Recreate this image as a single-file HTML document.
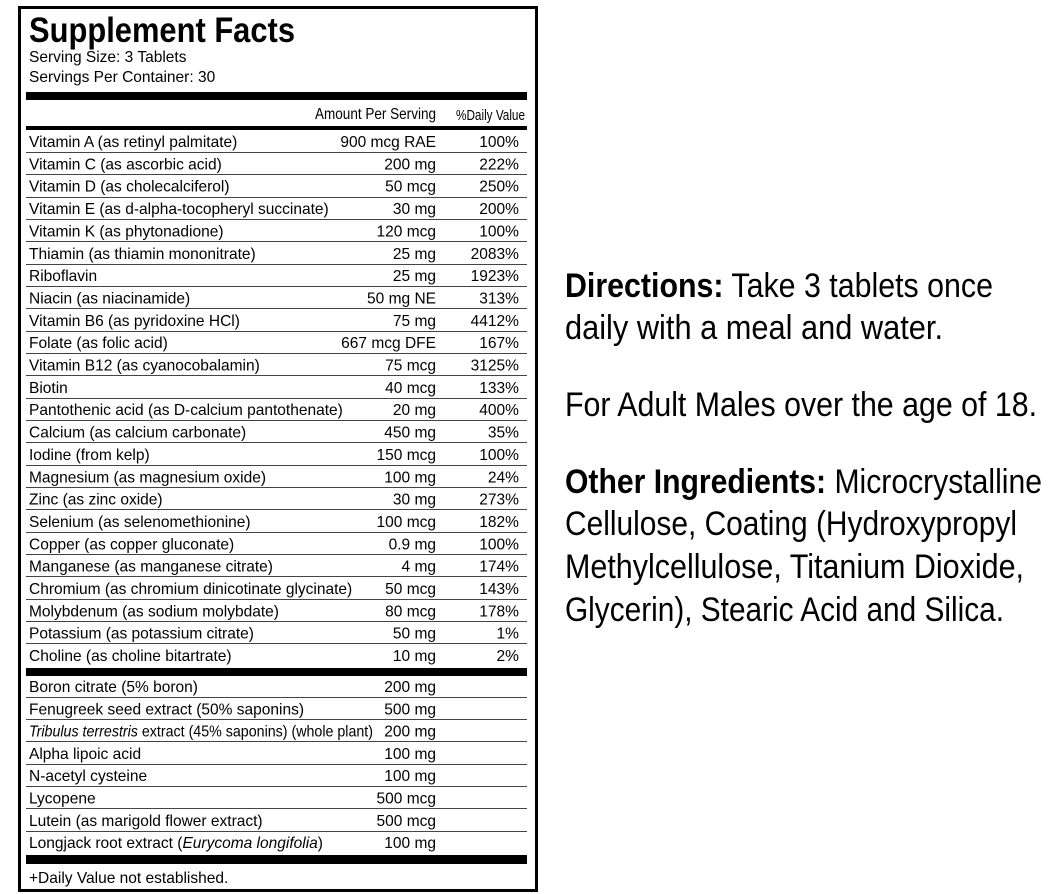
<!DOCTYPE html>
<html><head><meta charset="utf-8"><style>
html,body{margin:0;padding:0;background:#fff;}
svg{display:block;font-family:"Liberation Sans",Arial,sans-serif;}
</style></head><body>
<svg width="1051" height="894" viewBox="0 0 1051 894" xmlns="http://www.w3.org/2000/svg">
<rect x="19.5" y="7.5" width="517" height="883" fill="none" stroke="#000" stroke-width="3"/>
<text x="29" y="42" font-size="35" font-weight="bold" textLength="266" lengthAdjust="spacingAndGlyphs">Supplement Facts</text>
<g font-size="16" transform="scale(0.97,1)">
<text x="29.9" y="62">Serving Size: 3 Tablets</text>
<text x="29.9" y="82">Servings Per Container: 30</text>
</g>
<rect x="26" y="92" width="501" height="8" fill="#000"/>
<text x="436" y="119" font-size="16" text-anchor="end" textLength="121" lengthAdjust="spacingAndGlyphs">Amount Per Serving</text>
<text x="525" y="120" font-size="15" text-anchor="end" textLength="69" lengthAdjust="spacingAndGlyphs">%Daily Value</text>
<rect x="26" y="126" width="501" height="4" fill="#000"/>
<g stroke="#444" stroke-width="1">
<line x1="26" x2="527" y1="152.5" y2="152.5"/><line x1="26" x2="527" y1="174.5" y2="174.5"/><line x1="26" x2="527" y1="197.5" y2="197.5"/><line x1="26" x2="527" y1="219.5" y2="219.5"/><line x1="26" x2="527" y1="241.5" y2="241.5"/><line x1="26" x2="527" y1="264.5" y2="264.5"/><line x1="26" x2="527" y1="286.5" y2="286.5"/><line x1="26" x2="527" y1="308.5" y2="308.5"/><line x1="26" x2="527" y1="331.5" y2="331.5"/><line x1="26" x2="527" y1="353.5" y2="353.5"/><line x1="26" x2="527" y1="375.5" y2="375.5"/><line x1="26" x2="527" y1="398.5" y2="398.5"/><line x1="26" x2="527" y1="420.5" y2="420.5"/><line x1="26" x2="527" y1="442.5" y2="442.5"/><line x1="26" x2="527" y1="465.5" y2="465.5"/><line x1="26" x2="527" y1="487.5" y2="487.5"/><line x1="26" x2="527" y1="509.5" y2="509.5"/><line x1="26" x2="527" y1="532.5" y2="532.5"/><line x1="26" x2="527" y1="554.5" y2="554.5"/><line x1="26" x2="527" y1="576.5" y2="576.5"/><line x1="26" x2="527" y1="599.5" y2="599.5"/><line x1="26" x2="527" y1="621.5" y2="621.5"/><line x1="26" x2="527" y1="643.5" y2="643.5"/>
<line x1="26" x2="527" y1="697.5" y2="697.5"/><line x1="26" x2="527" y1="719.5" y2="719.5"/><line x1="26" x2="527" y1="741.5" y2="741.5"/><line x1="26" x2="527" y1="764.5" y2="764.5"/><line x1="26" x2="527" y1="786.5" y2="786.5"/><line x1="26" x2="527" y1="808.5" y2="808.5"/><line x1="26" x2="527" y1="831.5" y2="831.5"/>
</g>
<rect x="26" y="668" width="501" height="8" fill="#000"/>
<rect x="26" y="855" width="501" height="9" fill="#000"/>
<g font-size="16" transform="scale(0.97,1)">
<g>
<text x="29.9" y="147">Vitamin A (as retinyl palmitate)</text>
<text x="29.9" y="169.4">Vitamin C (as ascorbic acid)</text>
<text x="29.9" y="191.7">Vitamin D (as cholecalciferol)</text>
<text x="29.9" y="214">Vitamin E (as d-alpha-tocopheryl succinate)</text>
<text x="29.9" y="236.4">Vitamin K (as phytonadione)</text>
<text x="29.9" y="258.8">Thiamin (as thiamin mononitrate)</text>
<text x="29.9" y="281.1">Riboflavin</text>
<text x="29.9" y="303.5">Niacin (as niacinamide)</text>
<text x="29.9" y="325.8">Vitamin B6 (as pyridoxine HCl)</text>
<text x="29.9" y="348.2">Folate (as folic acid)</text>
<text x="29.9" y="370.5">Vitamin B12 (as cyanocobalamin)</text>
<text x="29.9" y="392.9">Biotin</text>
<text x="29.9" y="415.2">Pantothenic acid (as D-calcium pantothenate)</text>
<text x="29.9" y="437.6">Calcium (as calcium carbonate)</text>
<text x="29.9" y="459.9">Iodine (from kelp)</text>
<text x="29.9" y="482.3">Magnesium (as magnesium oxide)</text>
<text x="29.9" y="504.6">Zinc (as zinc oxide)</text>
<text x="29.9" y="527">Selenium (as selenomethionine)</text>
<text x="29.9" y="549.3">Copper (as copper gluconate)</text>
<text x="29.9" y="571.7">Manganese (as manganese citrate)</text>
<text x="29.9" y="594">Chromium (as chromium dinicotinate glycinate)</text>
<text x="29.9" y="616.4">Molybdenum (as sodium molybdate)</text>
<text x="29.9" y="638.7">Potassium (as potassium citrate)</text>
<text x="29.9" y="661.1">Choline (as choline bitartrate)</text>
</g>
<g text-anchor="end">
<text x="449.5" y="147">900 mcg RAE</text>
<text x="449.5" y="169.4">200 mg</text>
<text x="449.5" y="191.7">50 mcg</text>
<text x="449.5" y="214">30 mg</text>
<text x="449.5" y="236.4">120 mcg</text>
<text x="449.5" y="258.8">25 mg</text>
<text x="449.5" y="281.1">25 mg</text>
<text x="449.5" y="303.5">50 mg NE</text>
<text x="449.5" y="325.8">75 mg</text>
<text x="449.5" y="348.2">667 mcg DFE</text>
<text x="449.5" y="370.5">75 mcg</text>
<text x="449.5" y="392.9">40 mcg</text>
<text x="449.5" y="415.2">20 mg</text>
<text x="449.5" y="437.6">450 mg</text>
<text x="449.5" y="459.9">150 mcg</text>
<text x="449.5" y="482.3">100 mg</text>
<text x="449.5" y="504.6">30 mg</text>
<text x="449.5" y="527">100 mcg</text>
<text x="449.5" y="549.3">0.9 mg</text>
<text x="449.5" y="571.7">4 mg</text>
<text x="449.5" y="594">50 mcg</text>
<text x="449.5" y="616.4">80 mcg</text>
<text x="449.5" y="638.7">50 mg</text>
<text x="449.5" y="661.1">10 mg</text>
</g>
<g text-anchor="end">
<text x="535" y="147">100%</text>
<text x="535" y="169.4">222%</text>
<text x="535" y="191.7">250%</text>
<text x="535" y="214">200%</text>
<text x="535" y="236.4">100%</text>
<text x="535" y="258.8">2083%</text>
<text x="535" y="281.1">1923%</text>
<text x="535" y="303.5">313%</text>
<text x="535" y="325.8">4412%</text>
<text x="535" y="348.2">167%</text>
<text x="535" y="370.5">3125%</text>
<text x="535" y="392.9">133%</text>
<text x="535" y="415.2">400%</text>
<text x="535" y="437.6">35%</text>
<text x="535" y="459.9">100%</text>
<text x="535" y="482.3">24%</text>
<text x="535" y="504.6">273%</text>
<text x="535" y="527">182%</text>
<text x="535" y="549.3">100%</text>
<text x="535" y="571.7">174%</text>
<text x="535" y="594">143%</text>
<text x="535" y="616.4">178%</text>
<text x="535" y="638.7">1%</text>
<text x="535" y="661.1">2%</text>
</g>
<g>
<text x="29.9" y="692">Boron citrate (5% boron)</text>
<text x="29.9" y="714.3">Fenugreek seed extract (50% saponins)</text>
<text x="29.9" y="758.9">Alpha lipoic acid</text>
<text x="29.9" y="781.2">N-acetyl cysteine</text>
<text x="29.9" y="803.5">Lycopene</text>
<text x="29.9" y="825.8">Lutein (as marigold flower extract)</text>
<text x="29.9" y="848.1">Longjack root extract (<tspan font-style="italic">Eurycoma longifolia</tspan>)</text>
<text x="29.9" y="883">+Daily Value not established.</text>
</g>
<g text-anchor="end">
<text x="449.5" y="692">200 mg</text>
<text x="449.5" y="714.3">500 mg</text>
<text x="449.5" y="736.6">200 mg</text>
<text x="449.5" y="758.9">100 mg</text>
<text x="449.5" y="781.2">100 mg</text>
<text x="449.5" y="803.5">500 mcg</text>
<text x="449.5" y="825.8">500 mcg</text>
<text x="449.5" y="848.1">100 mg</text>
</g>
</g>
<text x="29" y="736.6" font-size="16" textLength="344" lengthAdjust="spacingAndGlyphs"><tspan font-style="italic">Tribulus terrestris</tspan> extract (45% saponins) (whole plant)</text>
<g font-size="34">
<text x="565" y="297" textLength="428" lengthAdjust="spacingAndGlyphs"><tspan font-weight="bold">Directions:</tspan> Take 3 tablets once</text>
<text x="565" y="339" textLength="378" lengthAdjust="spacingAndGlyphs">daily with a meal and water.</text>
<text x="565" y="416" textLength="472" lengthAdjust="spacingAndGlyphs">For Adult Males over the age of 18.</text>
<text x="565" y="493" textLength="477" lengthAdjust="spacingAndGlyphs"><tspan font-weight="bold">Other Ingredients:</tspan> Microcrystalline</text>
<text x="565" y="535" textLength="452" lengthAdjust="spacingAndGlyphs">Cellulose, Coating (Hydroxypropyl</text>
<text x="565" y="578" textLength="459" lengthAdjust="spacingAndGlyphs">Methylcellulose, Titanium Dioxide,</text>
<text x="565" y="621" textLength="439" lengthAdjust="spacingAndGlyphs">Glycerin), Stearic Acid and Silica.</text>
</g>
</svg>
</body></html>
